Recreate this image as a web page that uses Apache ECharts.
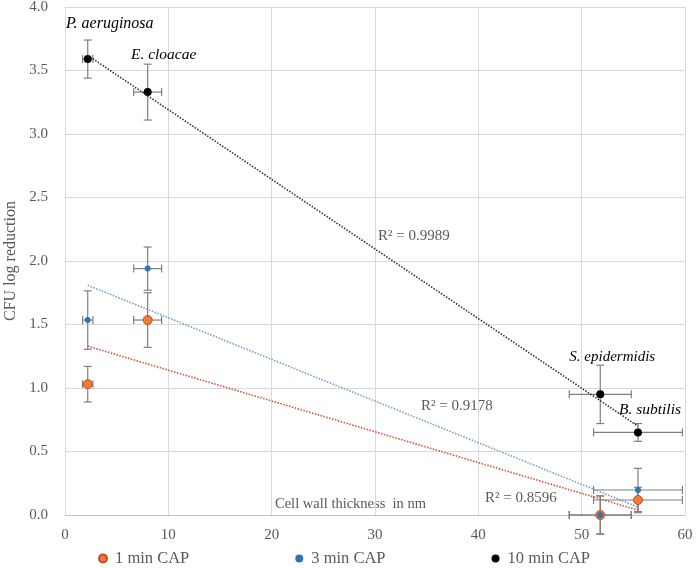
<!DOCTYPE html>
<html><head><meta charset="utf-8">
<script src="https://cdn.jsdelivr.net/npm/echarts@6/dist/echarts.min.js"></script>
<style>html,body{margin:0;padding:0;background:#fff}#c{width:697px;height:568px}</style>
</head><body><div id="c"></div>
<script>
// Bacteria, ordered by cell wall thickness
const species = ['P. aeruginosa', 'E. cloacae', 'S. epidermidis', 'B. subtilis'];
const thickness = [2.2, 8.0, 51.8, 55.45];
const thicknessErr = [0.5, 1.35, 3.0, 4.3];
const min1 = [1.03, 1.535, 0.0, 0.118];
const min1Err = [0.14, 0.215, 0.15, 0.1];
const min3 = [1.535, 1.94, 0.0, 0.197];
const min3Err = [0.23, 0.17, 0.15, 0.17];
const min10 = [3.59, 3.33, 0.95, 0.65];
const min10Err = [0.15, 0.22, 0.23, 0.07];
const seriesNames = ['1 min CAP', '3 min CAP', '10 min CAP'];
const rSquared = ['0.8596', '0.9178', '0.9989'];
const xTicks = [0, 10, 20, 30, 40, 50, 60];
const yTicks = [0, 0.5, 1, 1.5, 2, 2.5, 3, 3.5, 4];

const FONT = 'Liberation Serif';
const GRAY = '#595959';
// label styling (pixel offsets from the marker, font sizes)
const labelStyle = [
  { dx: 22, dy: -35, size: 16 },
  { dx: 16, dy: -37, size: 15.5 },
  { dx: 12, dy: -37, size: 15 },
  { dx: 12, dy: -23, size: 15.5 }
];

function regression(xs, ys) {
  const n = xs.length;
  const mx = xs.reduce((a, b) => a + b, 0) / n;
  const my = ys.reduce((a, b) => a + b, 0) / n;
  let sxy = 0, sxx = 0;
  for (let i = 0; i < n; i++) { sxy += (xs[i] - mx) * (ys[i] - my); sxx += (xs[i] - mx) ** 2; }
  const b = sxy / sxx, a = my - b * mx;
  const x0 = Math.min(...xs), x1 = Math.max(...xs);
  return [[x0, a + b * x0], [x1, a + b * x1]];
}

function errorSeries(ys, yErr) {
  return {
    type: 'custom', silent: true, z: 1,
    data: thickness.map((x, i) => [x, ys[i], thicknessErr[i], yErr[i]]),
    renderItem: function (params, api) {
      const x = api.value(0), y = api.value(1), ex = api.value(2), ey = api.value(3);
      const c = api.coord([x, y]);
      const l = api.coord([x - ex, y]), r = api.coord([x + ex, y]);
      const t = api.coord([x, y + ey]), b = api.coord([x, y - ey]);
      const cap = 4;
      const st = { stroke: '#7f7f7f', lineWidth: 1.2 };
      const seg = (x1, y1, x2, y2) => ({ type: 'line', shape: { x1, y1, x2, y2 }, style: st });
      return {
        type: 'group', children: [
          seg(l[0], c[1], r[0], c[1]),
          seg(l[0], c[1] - cap, l[0], c[1] + cap),
          seg(r[0], c[1] - cap, r[0], c[1] + cap),
          seg(c[0], t[1], c[0], b[1]),
          seg(c[0] - cap, t[1], c[0] + cap, t[1]),
          seg(c[0] - cap, b[1], c[0] + cap, b[1])
        ]
      };
    }
  };
}

function trend(ys, color) {
  return {
    type: 'line', silent: true, symbol: 'none', z: 4,
    data: regression(thickness, ys),
    lineStyle: { color: color, width: 1.6, type: [1.5, 1.5] }
  };
}

const chart = echarts.init(document.getElementById('c'));

chart.setOption({
  animation: false,
  grid: { left: 65, right: 12, top: 7, bottom: 53, containLabel: false, outerBoundsMode: 'none' },
  xAxis: {
    type: 'value', min: xTicks[0], max: xTicks[xTicks.length - 1], interval: 10,
    axisLine: { lineStyle: { color: '#bfbfbf' } }, axisTick: { show: false },
    axisLabel: { color: GRAY, fontFamily: FONT, fontSize: 15, margin: 13 },
    splitLine: { lineStyle: { color: '#d9d9d9' } }
  },
  yAxis: {
    type: 'value', min: yTicks[0], max: yTicks[yTicks.length - 1], interval: 0.5,
    name: 'CFU log reduction', nameLocation: 'middle', nameGap: 45,
    nameTextStyle: { color: GRAY, fontFamily: FONT, fontSize: 16 },
    axisLine: { show: true, lineStyle: { color: '#d9d9d9' } }, axisTick: { show: false },
    axisLabel: { color: GRAY, fontFamily: FONT, fontSize: 15, margin: 17, formatter: v => v.toFixed(1) },
    splitLine: { lineStyle: { color: '#d9d9d9' } }
  },
  legend: {
    top: 545, left: 93, itemGap: 106, itemWidth: 14, itemHeight: 8,
    textStyle: { color: GRAY, fontFamily: FONT, fontSize: 16.5 },
    data: [
      { name: seriesNames[0], icon: 'circle' },
      { name: seriesNames[1], icon: 'circle' },
      { name: seriesNames[2], icon: 'circle' }
    ]
  },
  series: [
    errorSeries(min1, min1Err),
    errorSeries(min3, min3Err),
    errorSeries(min10, min10Err),
    {
      name: seriesNames[0], type: 'scatter', z: 3, symbolSize: 9,
      data: thickness.map((x, i) => [x, min1[i]]),
      itemStyle: { color: '#ed7d31', borderColor: '#d0452a', borderWidth: 1, opacity: 1 }
    },
    {
      name: seriesNames[1], type: 'scatter', z: 3, symbolSize: 6,
      data: thickness.map((x, i) => [x, min3[i]]),
      itemStyle: { color: '#2e75b6', opacity: 1 }
    },
    {
      name: seriesNames[2], type: 'scatter', z: 3, symbolSize: 8,
      data: thickness.map((x, i) => ({
        value: [x, min10[i]],
        label: { fontSize: labelStyle[i].size }
      })),
      itemStyle: { color: '#000000', opacity: 1 },
      label: {
        show: true, position: 'inside', color: '#000', fontFamily: FONT, fontSize: 15, fontStyle: 'italic',
        formatter: p => species[p.dataIndex]
      },
      labelLayout: p => ({ dx: labelStyle[p.dataIndex].dx, dy: labelStyle[p.dataIndex].dy })
    },
    trend(min1, '#e04a3a'),
    trend(min3, '#6fa0cc'),
    trend(min10, '#333333')
  ],
  graphic: [
    { type: 'text', left: 378, top: 229, style: { text: 'R² = ' + rSquared[2], fill: GRAY, font: '15px ' + FONT } },
    { type: 'text', left: 421, top: 399, style: { text: 'R² = ' + rSquared[1], fill: GRAY, font: '15px ' + FONT } },
    { type: 'text', left: 485, top: 491, style: { text: 'R² = ' + rSquared[0], fill: GRAY, font: '15px ' + FONT } },
    { type: 'text', left: 275, top: 497, style: { text: 'Cell wall thickness  in nm', fill: GRAY, font: '14.5px ' + FONT } }
  ]
});
</script></body></html>
